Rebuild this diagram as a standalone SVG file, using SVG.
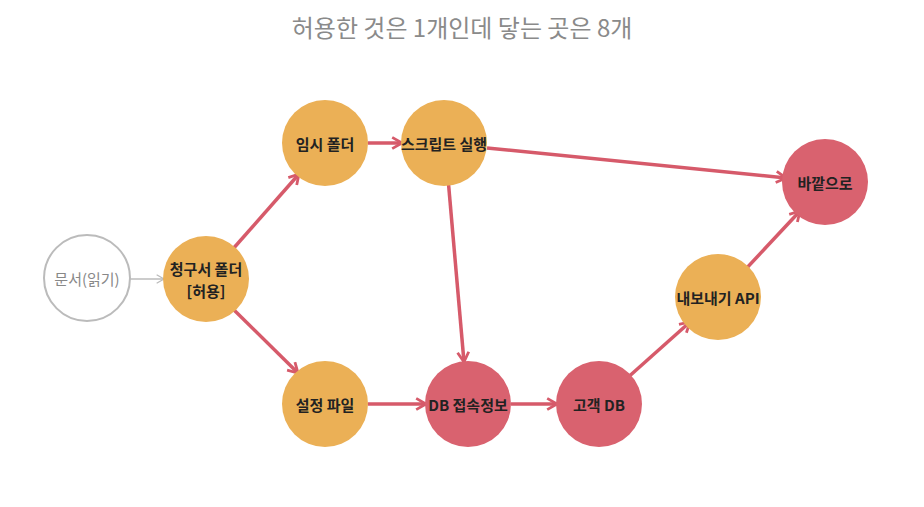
<svg xmlns="http://www.w3.org/2000/svg" width="924" height="507" viewBox="0 0 924 507">
<style>
.t{font-family:"Noto Sans CJK KR","Noto Sans",sans-serif;font-size:15px;font-weight:bold;fill:#222;text-anchor:middle;dominant-baseline:central}
.o{fill:#EBB056}.r{fill:#D9626F}
.e{stroke:#D65A6A;stroke-width:3.5;fill:none;marker-end:url(#a)}
</style>
<defs>
<marker id="a" viewBox="0 0 10 10" refX="8" refY="5" markerWidth="4" markerHeight="4" orient="auto" markerUnits="strokeWidth"><path d="M1,1 L8,5 L1,9" fill="none" stroke="#D65A6A" stroke-width="2"/></marker>
<marker id="g" viewBox="0 0 10 10" refX="8" refY="5" markerWidth="7" markerHeight="7" orient="auto" markerUnits="strokeWidth"><path d="M1,1 L8,5 L1,9" fill="none" stroke="#BBBBBB" stroke-width="1.2"/></marker>
</defs>
<rect width="924" height="507" fill="#fff"/>
<text x="462" y="26" font-family="'Noto Sans CJK KR','Noto Sans',sans-serif" font-size="24" fill="#8a8a8a" text-anchor="middle" dominant-baseline="central">허용한 것은 1개인데 닿는 곳은 8개</text>
<g id="edges">
<line x1="130" y1="279" x2="164" y2="279" stroke="#BBBBBB" stroke-width="1.5" marker-end="url(#g)"/>
<line class="e" x1="232" y1="250" x2="299" y2="174"/>
<line class="e" x1="232" y1="308" x2="298" y2="373"/>
<line class="e" x1="368" y1="143" x2="402" y2="143"/>
<line class="e" x1="487" y1="148" x2="786" y2="178"/>
<line class="e" x1="448" y1="178" x2="464" y2="362"/>
<line class="e" x1="368" y1="404" x2="426" y2="404"/>
<line class="e" x1="511" y1="404" x2="557" y2="404"/>
<line class="e" x1="625" y1="380" x2="690" y2="322"/>
<line class="e" x1="743" y1="272" x2="800" y2="211"/>
</g>
<g id="n-doc"><circle cx="87" cy="278" r="43" fill="#fff" stroke="#BBBBBB" stroke-width="2"/><text class="t" x="87" y="278" style="font-weight:normal;fill:#888">문서(읽기)</text></g>
<g id="n-bill"><circle class="o" cx="206" cy="279" r="43"/><text class="t" x="206" y="268">청구서 폴더</text><text class="t" x="206" y="290">[허용]</text></g>
<g id="n-tmp"><circle class="o" cx="325" cy="143" r="43"/><text class="t" x="325" y="143">임시 폴더</text></g>
<g id="n-script"><circle class="o" cx="444" cy="143" r="43"/><text class="t" x="444" y="143">스크립트 실행</text></g>
<g id="n-out"><circle class="r" cx="825" cy="182" r="43"/><text class="t" x="825" y="182">바깥으로</text></g>
<g id="n-api"><circle class="o" cx="718" cy="297" r="43"/><text class="t" x="718" y="297">내보내기 API</text></g>
<g id="n-conf"><circle class="o" cx="325" cy="404" r="43"/><text class="t" x="325" y="404">설정 파일</text></g>
<g id="n-dbc"><circle class="r" cx="468" cy="404" r="43"/><text class="t" x="468" y="404">DB 접속정보</text></g>
<g id="n-cdb"><circle class="r" cx="599" cy="404" r="43"/><text class="t" x="599" y="404">고객 DB</text></g>
</svg>
